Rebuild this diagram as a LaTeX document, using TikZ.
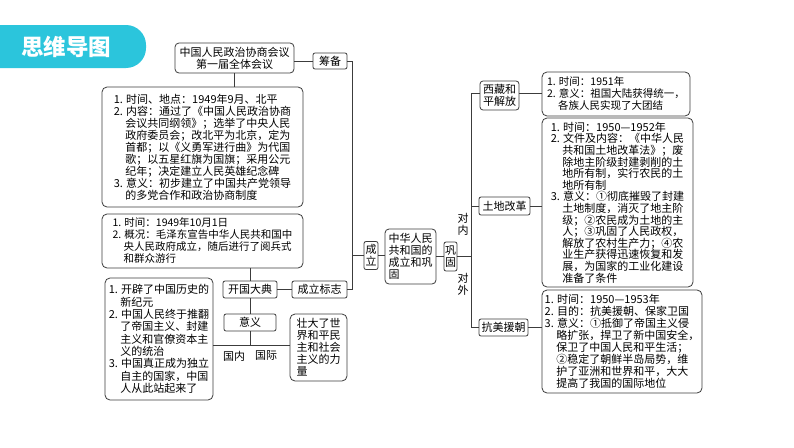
\documentclass[tikz,border=0pt]{standalone}
\usepackage{fontspec}
\setmainfont{Noto Sans CJK SC}
\definecolor{ln}{HTML}{3C3C3C}
\definecolor{hd}{HTML}{2BC5DC}
\newcommand\cind{\hspace*{1.05em}}
\begin{document}
\begin{tikzpicture}[x=1pt,y=-1pt,
 box/.style={draw=ln, line width=0.8pt, rounded corners=5pt, align=left, inner sep=2pt, font=\fontsize{11}{12}\selectfont},
 sbox/.style={draw=ln, line width=0.8pt, rounded corners=2pt, align=center, inner sep=1pt, font=\fontsize{11}{12}\selectfont},
 conn/.style={draw=ln, line width=0.8pt},
 lbl/.style={font=\fontsize{11}{12}\selectfont, inner sep=0pt, align=center}]
\path[use as bounding box, fill=white] (0,0) rectangle (794,447);
\begin{scope}
\clip (0,0) rectangle (794,447);
\fill[hd, rounded corners=20pt] (-30,25) rectangle (146,68);
\end{scope}
\node[text=white, font=\fontsize{22.5}{24}\selectfont\bfseries] (hdr) at (66,47) {思维导图};

% left side
\node[box, rounded corners=4pt, minimum width=119, minimum height=30, align=center] (A) at (234.5,58) {中国人民政治协商会议\\第一届全体会议};
\node[sbox, minimum width=34, minimum height=16] (cb) at (330,61) {筹备};
\node[box, minimum width=201, minimum height=120] (B) at (202.5,147) {1. 时间、地点：1949年9月、北平\\2. 内容：通过了《中国人民政治协商\\\cind 会议共同纲领》；选举了中央人民\\\cind 政府委员会；改北平为北京，定为\\\cind 首都；以《义勇军进行曲》为代国\\\cind 歌；以五星红旗为国旗；采用公元\\\cind 纪年；决定建立人民英雄纪念碑\\3. 意义：初步建立了中国共产党领导\\\cind 的多党合作和政治协商制度};
\node[box, font=\fontsize{10.5}{12}\selectfont, minimum width=201, minimum height=54] (C) at (202.5,241) {1. 时间：1949年10月1日\\2. 概况：毛泽东宣告中华人民共和国中\\\cind 央人民政府成立，随后进行了阅兵式\\\cind 和群众游行};
\node[sbox, minimum width=54, minimum height=17] (kg) at (250,289.5) {开国大典};
\node[sbox, minimum width=55, minimum height=17] (cl) at (319.5,289.5) {成立标志};
\node[sbox, minimum width=52, minimum height=17] (yy) at (250,322.5) {意义};
\node[box, font=\fontsize{11}{12.3}\selectfont, minimum width=108, minimum height=122] (D) at (159,339) {1. 开辟了中国历史的\\\cind 新纪元\\2. 中国人民终于推翻\\\cind 了帝国主义、封建\\\cind 主义和官僚资本主\\\cind 义的统治\\3. 中国真正成为独立\\\cind 自主的国家，中国\\\cind 人从此站起来了};
\node[box, minimum width=57, minimum height=67] (E) at (318.5,347.5) {壮大了世\\界和平民\\主和社会\\主义的力\\量};
\coordinate (yj) at (250,345);
\node[lbl] (gn) at (234,356) {国内};
\node[lbl] (gj) at (266,356) {国际};

% centre
\node[sbox, minimum width=14, minimum height=28] (cl2) at (371,255.5) {成\\立};
\node[box, rounded corners=4pt, minimum width=51, minimum height=55] (ct) at (410.5,256.5) {中华人民\\共和国的\\成立和巩\\固};
\node[sbox, minimum width=13, minimum height=29] (gg) at (450.5,256.5) {巩\\固};
\coordinate (v1t) at (352,61);
\coordinate (v1b) at (352,289.5);
\coordinate (v2t) at (471,93);
\coordinate (v2b) at (471,327.5);
\node[lbl] (dn) at (463,224) {对\\内};
\node[lbl] (dw) at (463,284) {对\\外};

% right side
\node[sbox, rounded corners=3pt, minimum width=39, minimum height=29] (xz) at (499.5,95.5) {西藏和\\平解放};
\node[sbox, minimum width=51, minimum height=18] (td) at (504.5,206) {土地改革};
\node[sbox, minimum width=49, minimum height=17] (km) at (503.5,327.5) {抗美援朝};
\node[box, font=\fontsize{10.5}{12}\selectfont, minimum width=148, minimum height=44] (R1) at (616,94) {1. 时间：1951年\\2. 意义：祖国大陆获得统一，\\\cind 各族人民实现了大团结};
\node[box, font=\fontsize{11}{11.6}\selectfont, minimum width=151, minimum height=169] (R2) at (617.5,202.5) {1. 时间：1950—1952年\\2. 文件及内容：《中华人民\\\cind 共和国土地改革法》；废\\\cind 除地主阶级封建剥削的土\\\cind 地所有制，实行农民的土\\\cind 地所有制\\3. 意义：①彻底摧毁了封建\\\cind 土地制度，消灭了地主阶\\\cind 级；②农民成为土地的主\\\cind 人；③巩固了人民政权，\\\cind 解放了农村生产力；④农\\\cind 业生产获得迅速恢复和发\\\cind 展，为国家的工业化建设\\\cind 准备了条件};
\node[box, minimum width=160, minimum height=103] (R3) at (622,341.5) {1. 时间：1950—1953年\\2. 目的：抗美援朝、保家卫国\\3. 意义：①抵御了帝国主义侵\\\cind 略扩张，捍卫了新中国安全，\\\cind 保卫了中国人民和平生活；\\\cind ②稳定了朝鲜半岛局势，维\\\cind 护了亚洲和世界和平，大大\\\cind 提高了我国的国际地位};

% connectors
\draw[conn] (A.east |- cb.west) -- (cb.west);
\draw[conn] (cb.east) -- (v1t) -- (v1b) -- (cl.east);
\draw[conn] (cl2.west -| v1t) -- (cl2.west);
\draw[conn] (A.south) -- (A.south |- B.north);
\draw[conn] (C.south -| kg.north) -- (kg.north);
\draw[conn] (kg.east) -- (cl.west);
\draw[conn] (kg.south) -- (yy.north);
\draw[conn] (yy.south) -- (yj);
\draw[conn] (D.east |- yj) -- (E.west |- yj);
\draw[conn] (cl2.east) -- (ct.west |- cl2.east);
\draw[conn] (ct.east) -- (gg.west);
\draw[conn] (gg.east) -- (gg.east -| v2t);
\draw[conn] (v2t) -- (v2b);
\draw[conn] (v2t) -- (v2t -| xz.west);
\draw[conn] (td.west -| v2t) -- (td.west);
\draw[conn] (v2b) -- (km.west);
\draw[conn] (xz.east |- v2t) -- (R1.west |- v2t);
\draw[conn] (td.east) -- (R2.west |- td.east);
\draw[conn] (km.east) -- (R3.west |- km.east);
\end{tikzpicture}
\end{document}
